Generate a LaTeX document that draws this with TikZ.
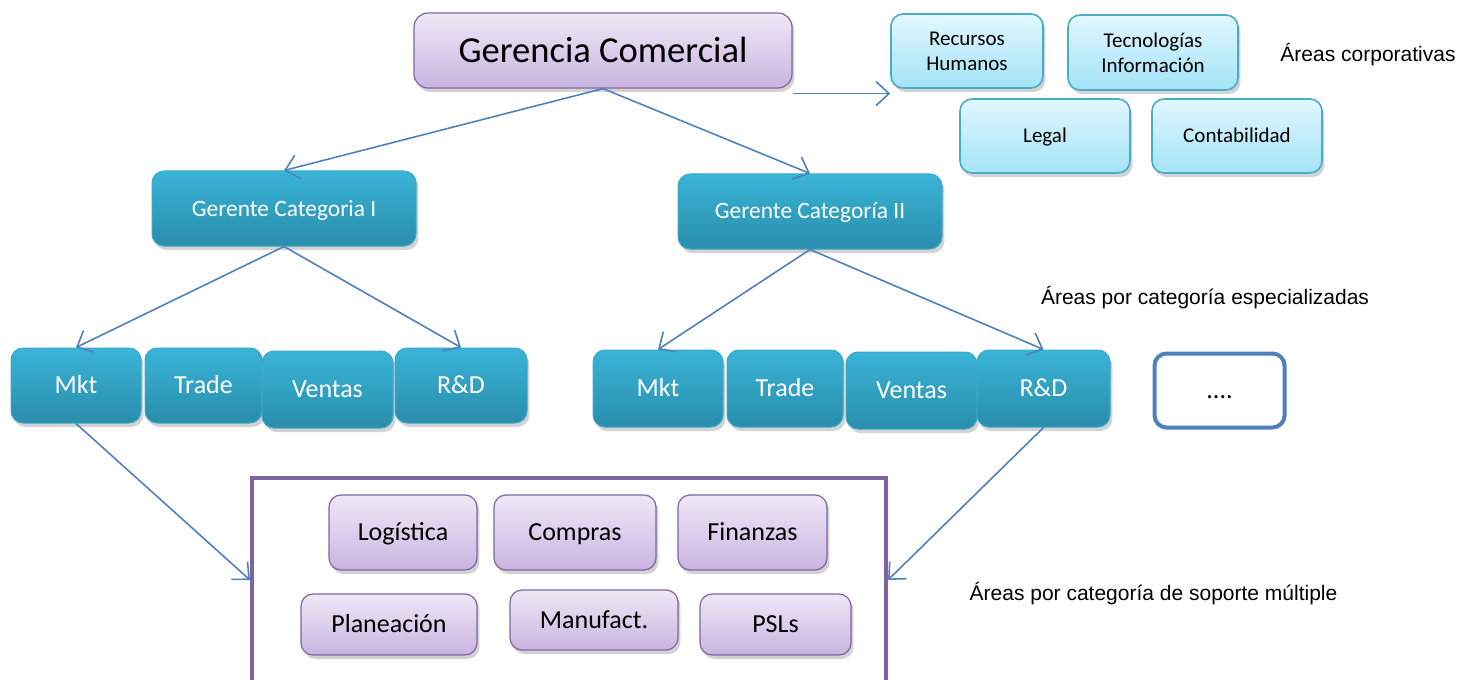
\documentclass[tikz,border=0pt]{standalone}
\usepackage{fontspec}
\setmainfont{Carlito}
\newfontfamily\arialf{Liberation Sans}
\usetikzlibrary{shadows,arrows.meta}
\definecolor{purB}{HTML}{8064A2}
\definecolor{purT}{HTML}{EFE8F7}
\definecolor{purD}{HTML}{C9B4E0}
\definecolor{cyB}{HTML}{4BACC6}
\definecolor{cyT}{HTML}{E2F7FD}
\definecolor{cyD}{HTML}{A2E3F7}
\definecolor{tlT}{HTML}{39B4D7}
\definecolor{tlD}{HTML}{2A8DAB}
\definecolor{tlB}{HTML}{3AA9CB}
\definecolor{arB}{HTML}{4F81BD}
\tikzset{
  x=0.5pt, y=-0.5pt,
  shad/.style={drop shadow={opacity=0.35, shadow xshift=1.2pt, shadow yshift=-2pt}},
  oneline/.style={text height=9.4pt, text depth=1pt},
  purbox/.style={shad, oneline, draw=purB, line width=0.6pt, rounded corners=6pt, top color=purT, bottom color=purD, inner sep=0pt, font=\fontsize{13}{15}\selectfont},
  cybox/.style={shad, draw=cyB, line width=0.8pt, rounded corners=6pt, top color=cyT, bottom color=cyD, inner sep=0pt, align=center, font=\fontsize{10.5}{12.5}\selectfont},
  tlbox/.style={shad, oneline, draw=tlB, line width=0.5pt, rounded corners=6pt, top color=tlT, bottom color=tlD, inner sep=0pt, text=white, font=\fontsize{13}{15}\selectfont},
  arr/.style={draw=arB, line width=0.8pt, -{Straight Barb[length=6.5pt,width=12pt,line width=0.8pt]}},
  lbl/.style={font=\arialf\fontsize{10.5}{12.5}\selectfont, inner sep=0pt},
}
\begin{document}
\begin{tikzpicture}
\useasboundingbox (0,0) rectangle (1475,679);
\clip (0,0) rectangle (1475,679);
% top
\node[purbox, rounded corners=7pt, minimum width=189pt, minimum height=37.5pt, text height=12.8pt, text depth=1pt, font=\fontsize{18.3}{21}\selectfont] (top) at (603,50.5) {Gerencia Comercial};
% corporate
\node[cybox, minimum width=76pt, minimum height=37pt] (rh) at (967,51) {Recursos\\Humanos};
\node[cybox, minimum width=85pt, minimum height=37.5pt] (ti) at (1153,52.5) {Tecnologías\\Información};
\node[cybox, text height=7.8pt, text depth=1pt, minimum width=85pt, minimum height=37pt] (legal) at (1045,136) {Legal};
\node[cybox, text height=7.8pt, text depth=1pt, minimum width=85pt, minimum height=37pt] (conta) at (1237,136) {Contabilidad};
\node[lbl] (corp) at (1368,55) {Áreas corporativas};
% managers
\node[tlbox, minimum width=132pt, minimum height=37.5pt, text height=8.5pt, text depth=1pt, font=\fontsize{11.7}{14}\selectfont] (g1) at (284,208.5) {Gerente Categoria I};
\node[tlbox, minimum width=132pt, minimum height=37.5pt, text height=8.5pt, text depth=1pt, font=\fontsize{11.7}{14}\selectfont] (g2) at (810,211.5) {Gerente Categoría II};
\node[lbl] (esp) at (1205,298) {Áreas por categoría especializadas};
% left row
\node[tlbox, minimum width=65pt, minimum height=37.5pt] (mkt1) at (76,385.5) {Mkt};
\node[tlbox, minimum width=58.5pt, minimum height=37.5pt] (trade1) at (203.5,385.5) {Trade};
\node[tlbox, minimum width=65.5pt, minimum height=38.5pt] (ventas1) at (327.5,389.5) {Ventas};
\node[tlbox, minimum width=66pt, minimum height=37.5pt] (rd1) at (461,385.5) {R\&D};
% right row
\node[tlbox, minimum width=65pt, minimum height=38.5pt] (mkt2) at (658,388.5) {Mkt};
\node[tlbox, minimum width=58pt, minimum height=38.5pt] (trade2) at (785,388.5) {Trade};
\node[tlbox, minimum width=65.5pt, minimum height=38.5pt] (ventas2) at (911.5,390.5) {Ventas};
\node[tlbox, minimum width=66.5pt, minimum height=38.5pt] (rd2) at (1043.5,388.5) {R\&D};
\node[oneline, draw=arB, line width=2pt, rounded corners=6pt, fill=white, inner sep=0pt, minimum width=65pt, minimum height=37pt, font=\fontsize{13}{15}\selectfont] (dots) at (1219.5,390.5) {....};
% support box
\node[draw=purB, line width=2pt, fill=white, minimum width=317pt, minimum height=102pt] (sup) at (569,580) {};
\node[purbox, minimum width=74pt, minimum height=37.5pt] (log) at (403,532.5) {Logística};
\node[purbox, minimum width=81pt, minimum height=37.5pt] (comp) at (575,532.5) {Compras};
\node[purbox, minimum width=74.5pt, minimum height=37.5pt] (fin) at (752.5,532.5) {Finanzas};
\node[purbox, minimum width=88pt, minimum height=30.5pt] (plan) at (389,624.5) {Planeación};
\node[purbox, minimum width=84pt, minimum height=30pt] (manu) at (594,620) {Manufact.};
\node[purbox, minimum width=75.5pt, minimum height=30.5pt] (psl) at (775.5,624.5) {PSLs};
\node[lbl] (sop) at (1153.5,594) {Áreas por categoría de soporte múltiple};
% connectors
\draw[arr] ([yshift=-2.5pt]top.south east) -- ([yshift=-2.5pt]top.south east -| rh.west);
\draw[arr] (top.south) -- (g1.north);
\draw[arr] (top.south) -- (g2.north);
\draw[arr] (g1.south) -- (mkt1.north);
\draw[arr] (g1.south) -- (rd1.north);
\draw[arr] (g2.south) -- (mkt2.north);
\draw[arr] (g2.south) -- (rd2.north);
\draw[arr] (mkt1.south) -- (sup.west);
\draw[arr] (rd2.south) -- (sup.east);
\end{tikzpicture}
\end{document}
